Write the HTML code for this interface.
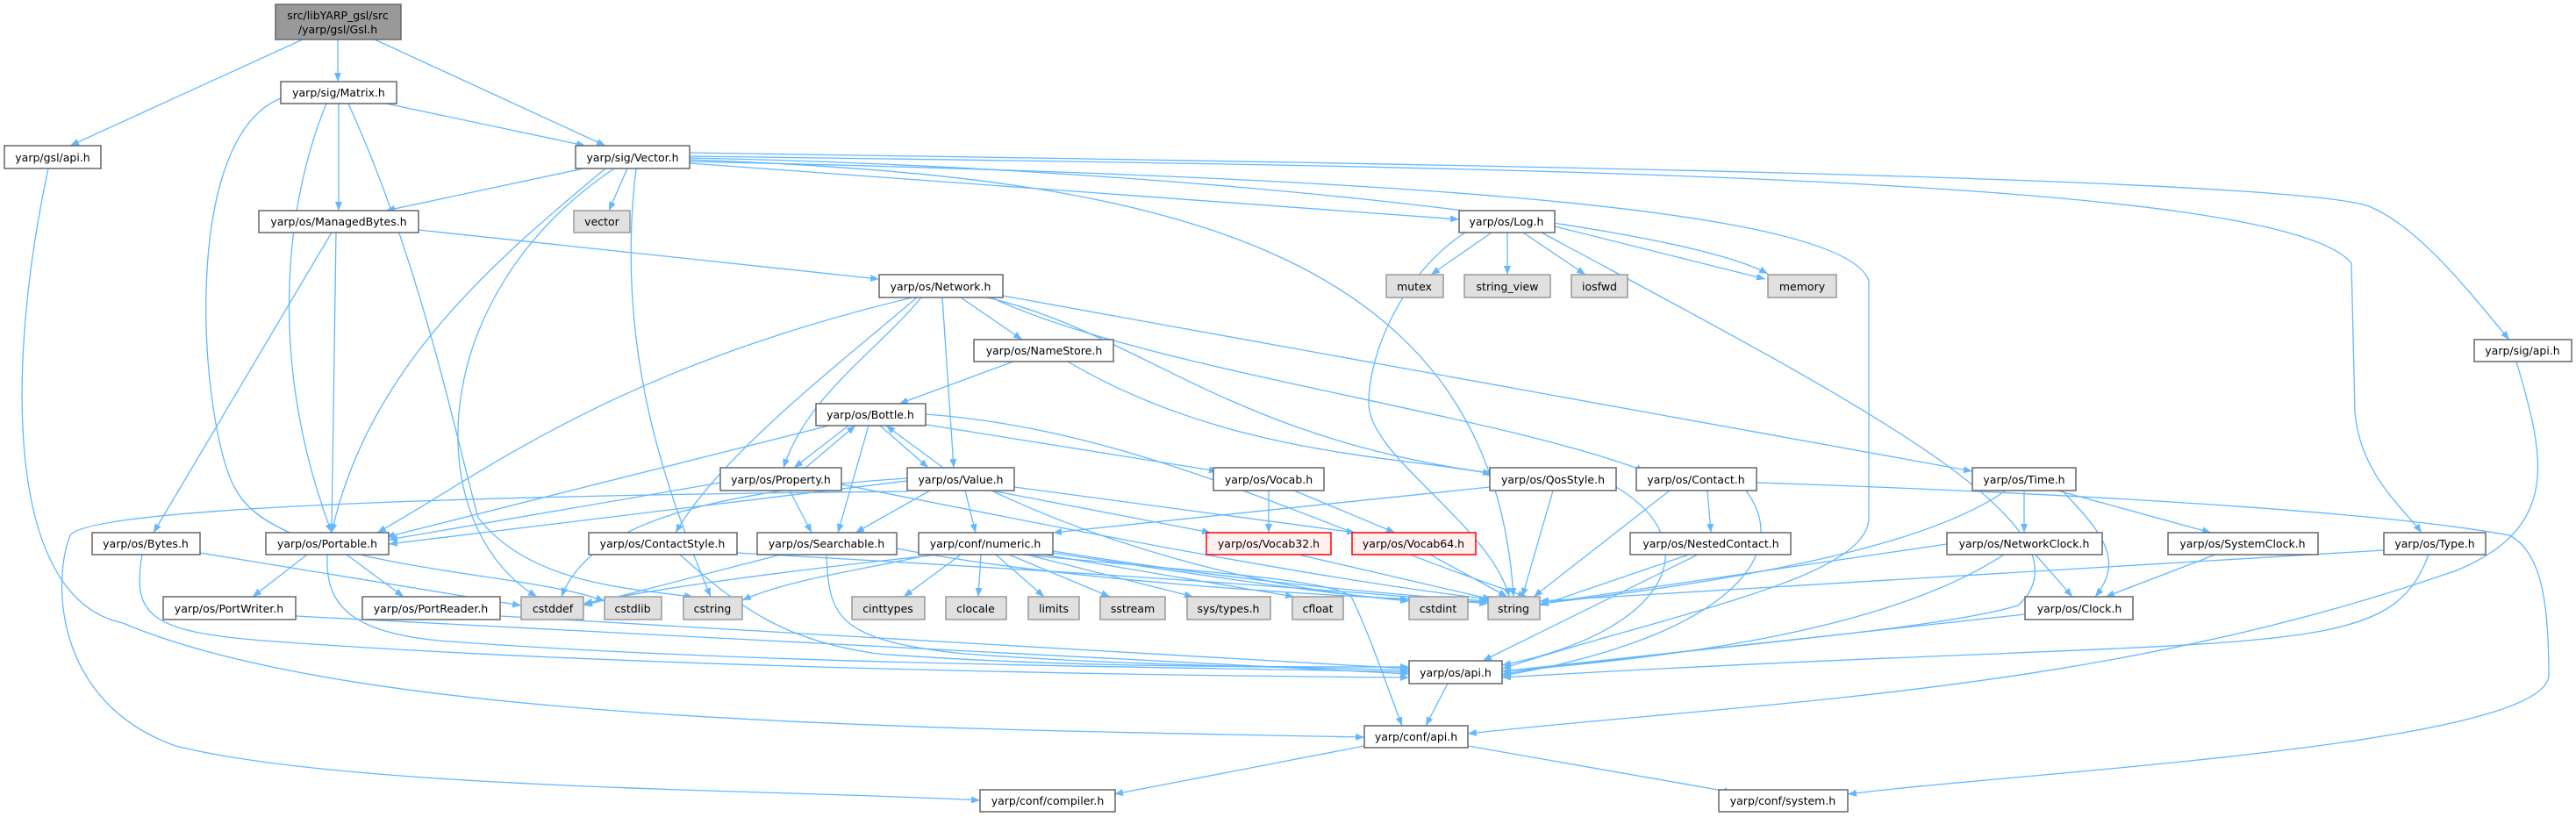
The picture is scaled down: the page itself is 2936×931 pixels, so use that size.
<!DOCTYPE html>
<html><head><meta charset="utf-8"><style>
html,body{margin:0;padding:0;background:#fff;}
svg{display:block;}
text{font-family:"DejaVu Sans","Liberation Sans",sans-serif;font-size:12.5px;fill:#000;text-anchor:middle;}
.n{fill:#fff;stroke:#666;stroke-width:1.5;}
.g{fill:#e0e0e0;stroke:#999;stroke-width:1.5;}
.r{fill:#fff0f0;stroke:#ff0000;stroke-width:1.5;}
.t{fill:#999;stroke:#666;stroke-width:1.5;}
path.e{fill:none;stroke:#63b8ff;stroke-width:1.3;marker-end:url(#a);}
</style></head><body>
<svg width="2936" height="931" viewBox="0 0 2936 931" xmlns="http://www.w3.org/2000/svg">
<defs><marker id="a" viewBox="0 0 10 8" refX="10" refY="4" markerWidth="10" markerHeight="8" markerUnits="userSpaceOnUse" orient="auto"><path d="M0,0 L10,4 L0,8 z" fill="#63b8ff"/></marker></defs>
<g>
<path class="e" d="M345,45 L80,166"/>
<path class="e" d="M385,45 L385,93"/>
<path class="e" d="M427,45 L690,166"/>
<path class="e" d="M440,118 L667,166"/>
<path class="e" d="M386,118 L386,240"/>
<path class="e" d="M372,118 C330,220 300,400 378,607"/>
<path class="e" d="M320,112 C200,160 230,500 270,560 C320,650 600,650 689,685"/>
<path class="e" d="M397,118 C480,300 520,500 545,590 C600,660 700,670 790,680"/>
<path class="e" d="M55,192 C10,400 0,680 140,710 C400,820 1000,830 1555,840"/>
<path class="e" d="M665,192 L440,240"/>
<path class="e" d="M715,192 L694,240"/>
<path class="e" d="M690,192 C560,300 420,420 378,607"/>
<path class="e" d="M700,192 C480,340 480,600 612,680"/>
<path class="e" d="M725,192 C700,400 760,560 810,680"/>
<path class="e" d="M786,186 L1663,250"/>
<path class="e" d="M786,180 C1300,190 1900,250 2015,312"/>
<path class="e" d="M786,182 C1300,200 1700,270 1725,680"/>
<path class="e" d="M786,178 C1700,190 2600,200 2680,300 L2684,470 C2690,540 2740,580 2760,607"/>
<path class="e" d="M786,174 C1500,185 2600,200 2700,235 C2760,260 2820,340 2860,387"/>
<path class="e" d="M786,184 C1500,200 2100,230 2130,320 L2130,590 C2130,660 1900,700 1712,762"/>
<path class="e" d="M477,262 L1002,318"/>
<path class="e" d="M378,265 L175,607"/>
<path class="e" d="M383,265 L378,607"/>
<path class="e" d="M1040,339 C700,420 550,540 430,607"/>
<path class="e" d="M1050,339 C1000,400 920,450 893,533"/>
<path class="e" d="M1045,339 C950,420 820,520 770,607"/>
<path class="e" d="M1074,339 L1087,533"/>
<path class="e" d="M1095,339 L1165,387"/>
<path class="e" d="M1125,339 C1300,380 1400,500 1705,540"/>
<path class="e" d="M1130,339 C1300,420 1700,470 1875,537"/>
<path class="e" d="M1143,337 L2248,537"/>
<path class="e" d="M1155,412 L1025,460"/>
<path class="e" d="M1217,412 C1400,520 1600,520 1700,540"/>
<path class="e" d="M1055,472 C1300,490 1500,600 1740,680"/>
<path class="e" d="M1050,483 L1388,537"/>
<path class="e" d="M967,485 L905,533"/>
<path class="e" d="M1003,485 L1058,533"/>
<path class="e" d="M945,485 L440,612"/>
<path class="e" d="M990,485 L955,607"/>
<path class="e" d="M918,533 L975,485"/>
<path class="e" d="M821,550 L443,615"/>
<path class="e" d="M900,559 L925,607"/>
<path class="e" d="M959,552 C1200,600 1500,660 1700,683"/>
<path class="e" d="M1075,533 L1010,485"/>
<path class="e" d="M1034,548 L443,620"/>
<path class="e" d="M1060,559 L975,607"/>
<path class="e" d="M1100,559 L1112,607"/>
<path class="e" d="M1130,559 L1380,607"/>
<path class="e" d="M1156,555 L1545,607"/>
<path class="e" d="M1130,559 C1300,640 1500,680 1606,683"/>
<path class="e" d="M1034,545 C800,560 670,600 640,680"/>
<path class="e" d="M1034,560 C500,565 100,580 80,610 C60,660 60,800 200,850 C400,900 900,900 1117,912"/>
<path class="e" d="M1446,559 L1446,607"/>
<path class="e" d="M1475,559 L1590,607"/>
<path class="e" d="M1698,555 L1200,607"/>
<path class="e" d="M1770,559 L1735,680"/>
<path class="e" d="M1842,555 C1950,620 1900,720 1712,758"/>
<path class="e" d="M1903,559 L1748,680"/>
<path class="e" d="M1946,559 L1950,607"/>
<path class="e" d="M2002,550 C2300,560 2700,580 2860,610 C2900,630 2905,700 2905,770 C2900,850 2300,880 2106,905"/>
<path class="e" d="M1990,559 C2050,640 1950,730 1712,770"/>
<path class="e" d="M1095,632 L1030,680"/>
<path class="e" d="M1118,632 L1115,680"/>
<path class="e" d="M1135,632 L1190,680"/>
<path class="e" d="M1150,632 L1265,680"/>
<path class="e" d="M1170,632 L1360,680"/>
<path class="e" d="M1190,632 L1475,680"/>
<path class="e" d="M1200,630 C1400,660 1500,675 1606,685"/>
<path class="e" d="M1200,628 C1400,660 1550,675 1696,685"/>
<path class="e" d="M1070,632 C900,650 750,670 665,688"/>
<path class="e" d="M1060,632 C980,650 900,660 846,684"/>
<path class="e" d="M1165,632 C1350,650 1520,660 1540,680 C1560,720 1580,780 1598,827"/>
<path class="e" d="M1480,632 L1700,683"/>
<path class="e" d="M1630,632 L1718,680"/>
<path class="e" d="M350,632 L288,680"/>
<path class="e" d="M395,632 L460,680"/>
<path class="e" d="M373,632 C370,690 400,720 500,730 C900,760 1400,760 1606,766"/>
<path class="e" d="M228,630 L594,690"/>
<path class="e" d="M162,632 C150,700 170,720 300,730 C700,760 1300,770 1606,772"/>
<path class="e" d="M337,702 L1606,768"/>
<path class="e" d="M570,702 L1606,762"/>
<path class="e" d="M840,630 C1200,650 1500,670 1696,688"/>
<path class="e" d="M775,632 C850,700 900,730 1000,745 C1200,760 1400,760 1606,760"/>
<path class="e" d="M890,632 L665,690"/>
<path class="e" d="M942,632 C945,700 950,730 1100,745 C1300,760 1500,760 1606,764"/>
<path class="e" d="M1022,625 C1200,660 1500,680 1696,686"/>
<path class="e" d="M1925,632 L1755,690"/>
<path class="e" d="M1935,632 L1690,753"/>
<path class="e" d="M2286,559 C2200,620 2000,660 1755,688"/>
<path class="e" d="M2307,559 L2307,607"/>
<path class="e" d="M2350,559 C2400,610 2420,640 2388,680"/>
<path class="e" d="M2345,559 L2520,607"/>
<path class="e" d="M2219,620 L1755,688"/>
<path class="e" d="M2284,632 C2150,720 1900,750 1712,765"/>
<path class="e" d="M2320,632 L2362,680"/>
<path class="e" d="M2525,632 L2400,680"/>
<path class="e" d="M2717,627 L1755,685"/>
<path class="e" d="M2768,632 C2720,760 2600,720 1712,772"/>
<path class="e" d="M2308,700 L1712,765"/>
<path class="e" d="M1670,265 C1600,310 1560,400 1560,460 C1560,520 1700,600 1720,680"/>
<path class="e" d="M1700,265 L1631,313"/>
<path class="e" d="M1718,265 L1718,313"/>
<path class="e" d="M1736,265 L1807,313"/>
<path class="e" d="M1772,258 L2012,318"/>
<path class="e" d="M1757,265 C2100,450 2400,600 2300,690 C2200,720 1900,740 1712,768"/>
<path class="e" d="M2868,412 C2900,520 2920,600 2800,650 C2400,790 2000,800 1673,836"/>
<path class="e" d="M1650,779 L1625,827"/>
<path class="e" d="M1555,850 L1270,905"/>
<path class="e" d="M1673,850 L1975,903"/>
</g>
<g>
<rect class="t" x="314" y="5" width="143" height="40"/><text x="385" y="22">src/libYARP_gsl/src</text><text x="385" y="38">/yarp/gsl/Gsl.h</text>
<rect class="n" x="320" y="93" width="132" height="25"/><text x="386" y="110">yarp/sig/Matrix.h</text>
<rect class="n" x="5" y="166" width="110" height="26"/><text x="60" y="184">yarp/gsl/api.h</text>
<rect class="n" x="656" y="166" width="130" height="26"/><text x="721" y="184">yarp/sig/Vector.h</text>
<rect class="n" x="295" y="240" width="182" height="25"/><text x="386" y="257">yarp/os/ManagedBytes.h</text>
<rect class="g" x="654" y="240" width="64" height="25"/><text x="686" y="257">vector</text>
<rect class="n" x="1663" y="240" width="109" height="25"/><text x="1717" y="257">yarp/os/Log.h</text>
<rect class="n" x="1002" y="313" width="141" height="26"/><text x="1072" y="331">yarp/os/Network.h</text>
<rect class="g" x="1580" y="313" width="65" height="26"/><text x="1612" y="331">mutex</text>
<rect class="g" x="1669" y="313" width="98" height="26"/><text x="1718" y="331">string_view</text>
<rect class="g" x="1791" y="313" width="64" height="26"/><text x="1823" y="331">iosfwd</text>
<rect class="g" x="2015" y="313" width="78" height="26"/><text x="2054" y="331">memory</text>
<rect class="n" x="1110" y="387" width="159" height="25"/><text x="1190" y="404">yarp/os/NameStore.h</text>
<rect class="n" x="2820" y="387" width="111" height="25"/><text x="2875" y="404">yarp/sig/api.h</text>
<rect class="n" x="930" y="460" width="125" height="25"/><text x="992" y="477">yarp/os/Bottle.h</text>
<rect class="n" x="821" y="533" width="138" height="26"/><text x="890" y="551">yarp/os/Property.h</text>
<rect class="n" x="1034" y="533" width="122" height="26"/><text x="1095" y="551">yarp/os/Value.h</text>
<rect class="n" x="1383" y="533" width="126" height="26"/><text x="1446" y="551">yarp/os/Vocab.h</text>
<rect class="n" x="1698" y="533" width="144" height="26"/><text x="1770" y="551">yarp/os/QosStyle.h</text>
<rect class="n" x="1865" y="533" width="137" height="26"/><text x="1933" y="551">yarp/os/Contact.h</text>
<rect class="n" x="2248" y="533" width="118" height="26"/><text x="2307" y="551">yarp/os/Time.h</text>
<rect class="n" x="105" y="607" width="123" height="25"/><text x="166" y="624">yarp/os/Bytes.h</text>
<rect class="n" x="303" y="607" width="140" height="25"/><text x="373" y="624">yarp/os/Portable.h</text>
<rect class="n" x="671" y="607" width="169" height="25"/><text x="755" y="624">yarp/os/ContactStyle.h</text>
<rect class="n" x="863" y="607" width="159" height="25"/><text x="942" y="624">yarp/os/Searchable.h</text>
<rect class="n" x="1047" y="607" width="153" height="25"/><text x="1123" y="624">yarp/conf/numeric.h</text>
<rect class="r" x="1375" y="607" width="142" height="25"/><text x="1446" y="624">yarp/os/Vocab32.h</text>
<rect class="r" x="1541" y="607" width="141" height="25"/><text x="1611" y="624">yarp/os/Vocab64.h</text>
<rect class="n" x="1858" y="607" width="183" height="25"/><text x="1950" y="624">yarp/os/NestedContact.h</text>
<rect class="n" x="2219" y="607" width="177" height="25"/><text x="2307" y="624">yarp/os/NetworkClock.h</text>
<rect class="n" x="2471" y="607" width="171" height="25"/><text x="2556" y="624">yarp/os/SystemClock.h</text>
<rect class="n" x="2717" y="607" width="116" height="25"/><text x="2775" y="624">yarp/os/Type.h</text>
<rect class="n" x="186" y="680" width="151" height="26"/><text x="261" y="698">yarp/os/PortWriter.h</text>
<rect class="n" x="413" y="680" width="157" height="26"/><text x="491" y="698">yarp/os/PortReader.h</text>
<rect class="g" x="594" y="680" width="71" height="26"/><text x="630" y="698">cstddef</text>
<rect class="g" x="689" y="680" width="65" height="26"/><text x="721" y="698">cstdlib</text>
<rect class="g" x="779" y="680" width="67" height="26"/><text x="812" y="698">cstring</text>
<rect class="g" x="971" y="680" width="83" height="26"/><text x="1012" y="698">cinttypes</text>
<rect class="g" x="1078" y="680" width="69" height="26"/><text x="1112" y="698">clocale</text>
<rect class="g" x="1172" y="680" width="58" height="26"/><text x="1201" y="698">limits</text>
<rect class="g" x="1254" y="680" width="74" height="26"/><text x="1291" y="698">sstream</text>
<rect class="g" x="1353" y="680" width="95" height="26"/><text x="1400" y="698">sys/types.h</text>
<rect class="g" x="1473" y="680" width="58" height="26"/><text x="1502" y="698">cfloat</text>
<rect class="g" x="1606" y="680" width="67" height="26"/><text x="1639" y="698">cstdint</text>
<rect class="g" x="1696" y="680" width="59" height="26"/><text x="1725" y="698">string</text>
<rect class="n" x="2308" y="680" width="123" height="26"/><text x="2370" y="698">yarp/os/Clock.h</text>
<rect class="n" x="1606" y="753" width="106" height="26"/><text x="1659" y="771">yarp/os/api.h</text>
<rect class="n" x="1555" y="827" width="118" height="25"/><text x="1614" y="844">yarp/conf/api.h</text>
<rect class="n" x="1117" y="900" width="154" height="25"/><text x="1194" y="917">yarp/conf/compiler.h</text>
<rect class="n" x="1959" y="900" width="147" height="25"/><text x="2032" y="917">yarp/conf/system.h</text>
</g>
</svg>
</body></html>
